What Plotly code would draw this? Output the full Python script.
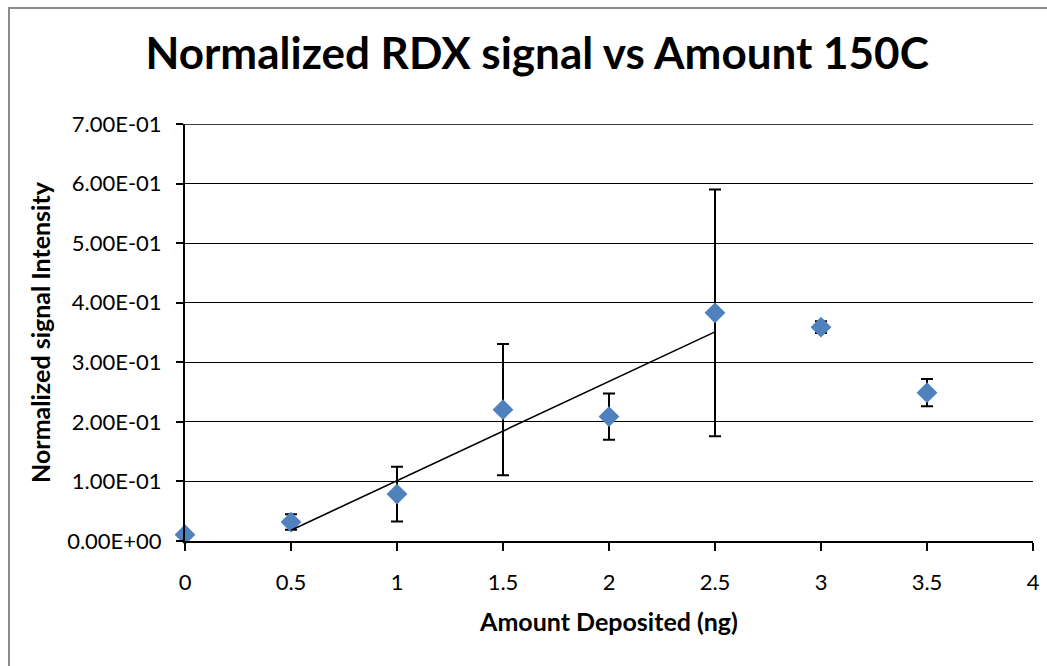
import numpy as np
import plotly.graph_objects as go

# Data
amount_ng = [0, 0.5, 1, 1.5, 2, 2.5, 3, 3.5]
signal = [0.0106, 0.0318, 0.0787, 0.2205, 0.2088, 0.383, 0.359, 0.249]
err = [0.0, 0.013, 0.046, 0.11, 0.039, 0.207, 0.010, 0.023]

# Trendline fitted over 0.5 - 2.5 ng
fit_x = amount_ng[1:6]
fit_y = signal[1:6]

y_tickvals = [0, 0.1, 0.2, 0.3, 0.4, 0.5, 0.6, 0.7]
y_ticktext = ["0.00E+00", "1.00E-01", "2.00E-01", "3.00E-01", "4.00E-01",
              "5.00E-01", "6.00E-01", "7.00E-01"]
x_tickvals = [0, 0.5, 1, 1.5, 2, 2.5, 3, 3.5, 4]
x_ticktext = ["0", "0.5", "1", "1.5", "2", "2.5", "3", "3.5", "4"]

slope, intercept = np.polyfit(fit_x, fit_y, 1)
trend_x = [fit_x[0], fit_x[-1]]
trend_y = [slope * v + intercept for v in trend_x]

FONT = "Lato, Carlito, Calibri, sans-serif"

fig = go.Figure()
fig.add_trace(go.Scatter(
    x=amount_ng, y=signal, mode="markers",
    marker=dict(symbol="diamond", size=16, color="#4F81BD"),
    error_y=dict(type="data", array=err, visible=True, color="black",
                 thickness=2, width=6),
    cliponaxis=False, showlegend=False,
))
fig.add_trace(go.Scatter(
    x=trend_x, y=trend_y, mode="lines",
    line=dict(color="black", width=1.6), showlegend=False,
))

W, H = 1047, 666
L, R, T, B = 185, 14, 124, 125

fig.update_layout(
    width=W, height=H,
    margin=dict(l=L, r=R, t=T, b=B, pad=0, autoexpand=False),
    paper_bgcolor="white", plot_bgcolor="white",
    font=dict(family=FONT, color="black"),
    title=dict(text="<b>Normalized RDX signal vs Amount 150C</b>",
               font=dict(size=44, family=FONT, color="black"),
               x=0.513, xanchor="center", y=0.92, yanchor="middle"),
    xaxis=dict(range=[0, 4], tickvals=x_tickvals, ticktext=x_ticktext,
               showgrid=False, zeroline=False, automargin=False,
               showline=True, linecolor="black", linewidth=2,
               ticks="outside", ticklen=8, tickwidth=1.5, tickcolor="black",
               tickfont=dict(size=22, family=FONT),
               ticklabelstandoff=13,
               title=dict(text="<b>Amount Deposited (ng)</b>",
                          font=dict(size=25, family=FONT), standoff=19)),
    yaxis=dict(range=[0, 0.7], tickvals=y_tickvals, ticktext=y_ticktext,
               showgrid=True, gridcolor="black", gridwidth=1.3,
               zeroline=False, automargin=False,
               showline=True, linecolor="black", linewidth=2,
               ticks="outside", ticklen=7, tickwidth=1.5, tickcolor="black",
               tickfont=dict(size=22, family=FONT),
               ticklabelstandoff=10,
               title=dict(text="<b>Normalized signal Intensity</b>",
                          font=dict(size=25, family=FONT), standoff=9)),
)

# Top gridline at 0.7 (edge of plot area)
fig.add_shape(type="line", xref="x", yref="y", x0=0, x1=4, y0=0.7, y1=0.7,
              line=dict(color="black", width=1.3), layer="below")
# Chart area border (partially visible)
pw, ph = W - L - R, H - T - B
fig.add_shape(type="rect", xref="paper", yref="paper",
              x0=(9 - L) / pw, x1=(W + 5 - L) / pw,
              y0=-(B + 10) / ph, y1=(H - 8 - B) / ph,
              line=dict(color="#8c8c8c", width=2), fillcolor="rgba(0,0,0,0)",
              layer="below")

fig.write_html("out.html")
